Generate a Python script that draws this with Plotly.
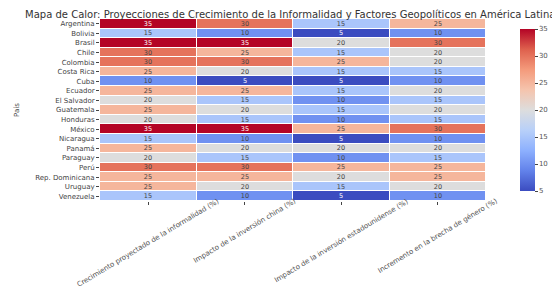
import plotly.graph_objects as go

paises = ["Argentina", "Bolivia", "Brasil", "Chile", "Colombia", "Costa Rica", "Cuba",
          "Ecuador", "El Salvador", "Guatemala", "Honduras", "México", "Nicaragua",
          "Panamá", "Paraguay", "Perú", "Rep. Dominicana", "Uruguay", "Venezuela"]
indicadores = ["Crecimiento proyectado de la informalidad (%)",
               "Impacto de la inversión china (%)",
               "Impacto de la inversión estadounidense (%)",
               "Incremento en la brecha de género (%)"]
informalidad = [35, 15, 35, 30, 30, 25, 10, 25, 20, 25, 20, 35, 15, 25, 20, 30, 25, 25, 15]
inversion_china = [30, 10, 35, 25, 30, 20, 5, 25, 15, 20, 15, 35, 10, 20, 15, 30, 25, 20, 10]
inversion_eeuu = [15, 5, 20, 15, 25, 15, 5, 15, 10, 15, 10, 25, 5, 20, 10, 25, 20, 15, 5]
brecha_genero = [25, 10, 30, 20, 20, 15, 10, 20, 15, 20, 15, 30, 10, 20, 15, 25, 25, 20, 10]

z = [list(r) for r in zip(informalidad, inversion_china, inversion_eeuu, brecha_genero)]

coolwarm = [
    [0.0, "rgb(59,76,192)"], [0.125, "rgb(98,130,234)"], [0.25, "rgb(141,176,254)"],
    [0.375, "rgb(184,208,249)"], [0.5, "rgb(221,221,221)"], [0.625, "rgb(245,196,173)"],
    [0.75, "rgb(244,154,123)"], [0.875, "rgb(222,96,77)"], [1.0, "rgb(180,4,38)"]]

fig = go.Figure(go.Heatmap(
    z=z, x=indicadores, y=paises, colorscale=coolwarm, zmin=5, zmax=35,
    xgap=1, ygap=1, texttemplate="%{z}", textfont=dict(size=6.5),
    colorbar=dict(thickness=15, len=1, lenmode="fraction", y=1, yanchor="top",
                  x=1.062, xanchor="left", outlinewidth=0,
                  tickvals=[5, 10, 15, 20, 25, 30, 35], ticks="outside", ticklen=3,
                  tickfont=dict(size=7, color="#555"))
))

for ind in indicadores:
    fig.add_annotation(x=ind, xref="x", y=0, yref="paper", yshift=5,
                       text=ind, textangle=-31, showarrow=False,
                       xanchor="center", yanchor="top", borderpad=0,
                       font=dict(size=7, color="#555"))

fig.update_layout(
    width=560, height=286,
    margin=dict(l=92, r=82, t=11, b=93, autoexpand=False),
    paper_bgcolor="white", plot_bgcolor="white",
    font=dict(family="DejaVu Sans", size=7, color="#444"),
    title=dict(text="Mapa de Calor: Proyecciones de Crecimiento de la Informalidad y Factores Geopolíticos en América Latina",
               font=dict(size=10, color="#333"), x=0.504, xanchor="center", y=0.979, yanchor="middle"),
    xaxis=dict(ticks="outside", ticklen=3, showticklabels=False, range=[-0.5, 3.5],
               autorange=False, showgrid=False, automargin=False),
    yaxis=dict(autorange="reversed", ticks="outside", ticklen=3, tickfont=dict(size=7, color="#444"),
               tickmode="array", tickvals=paises, ticktext=paises,
               title=dict(text="País", font=dict(size=7), standoff=14), showgrid=False,
               automargin=False),
)

fig.write_html("out.html")
